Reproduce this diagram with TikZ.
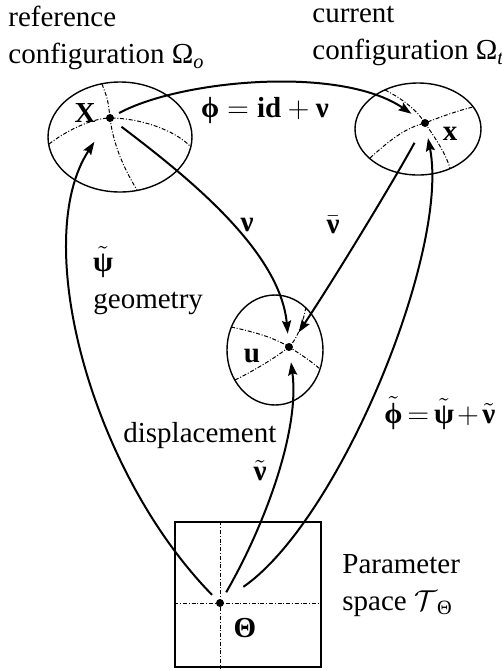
\documentclass[tikz,border=0pt]{standalone}
\usepackage{fontspec}
\setmainfont{Liberation Serif}
\usetikzlibrary{arrows.meta,shapes.geometric}

\newcommand{\bfphi}{\mbox{\bfseries ϕ}}
\newcommand{\bfpsi}{\mbox{\bfseries ψ}}
\newcommand{\bfnu}{\mbox{\bfseries ν}}
\newcommand{\bfTheta}{\mbox{\bfseries Θ}}

\begin{document}
\begin{tikzpicture}[x=0.5pt,y=-0.5pt,
  font=\fontsize{14.5}{18.5}\selectfont,
  region/.style={draw,line width=0.7pt,inner sep=0pt},
  pt/.style={circle,fill=black,inner sep=0pt,minimum size=4pt},
  grid/.style={line width=0.5pt,dash pattern=on 2pt off 0.9pt on 0.5pt off 0.9pt},
  map/.style={line width=1pt,-{Stealth[length=6.5pt,width=4.5pt,inset=1pt]}},
  lbl/.style={inner sep=0pt,anchor=base}]
\useasboundingbox (0,0) rectangle (502,671);

% configurations and parameter space
\node[region,ellipse,minimum width=72pt,minimum height=55pt] (RefConf) at (120,137) {};
\node[region,ellipse,minimum width=63pt,minimum height=46pt] (CurConf) at (418,129) {};
\node[region,ellipse,minimum width=48pt,minimum height=55pt] (DispConf) at (275,350) {};
\node[region,rectangle,minimum width=73pt,minimum height=72.5pt] (ParSpace) at (248,594.5) {};

\node[pt] (X) at (110,118) {};
\node[pt] (x) at (425,123) {};
\node[pt] (u) at (289,347) {};
\node[pt] (T) at (220,603) {};

% curvilinear coordinate lines
\draw[grid] (102,84) .. controls (108,100) .. (X.center) .. controls (114,150) and (128,175) .. (137,190);
\draw[grid] (49,144) .. controls (70,128) and (95,118) .. (X.center) .. controls (140,118) and (175,130) .. (191,147);
\draw[grid] (385,90) .. controls (405,100) and (418,112) .. (x.center) .. controls (435,138) and (445,152) .. (450,168);
\draw[grid] (370,158) .. controls (390,140) and (405,128) .. (x.center) .. controls (440,117) and (460,110) .. (473,107);
\draw[grid] (231,327) .. controls (255,332) and (275,338) .. (u.center) .. controls (302,355) and (312,362) .. (320,369);
\draw[grid] (235,380) .. controls (255,370) and (275,358) .. (u.center) .. controls (298,338) and (303,322) .. (306,307);
\draw[grid] (T.center |- ParSpace.north) -- (T.center |- ParSpace.south);
\draw[grid] (T.center -| ParSpace.west) -- (T.center -| ParSpace.east);

% mappings
\draw[map,shorten <=3pt,shorten >=6pt] (X) .. controls (180,80) and (340,65) .. (x);
\draw[map,shorten <=5pt,shorten >=4.5pt] (X) .. controls (185,175) and (280,250) .. (u);
\draw[map,shorten <=9pt,shorten >=6.5pt] (x) .. controls (400,170) and (340,270) .. (u);
\draw[map,shorten <=4pt,shorten >=5.5pt] (T) .. controls (265,525) and (300,430) .. (u);
\draw[map,shorten <=3.5pt,shorten >=12pt] (T) .. controls (90,470) and (30,240) .. (X);
\draw[map,shorten <=12pt,shorten >=5.5pt] (T) .. controls (340,520) and (450,250) .. (x);

% labels
\node[align=left,anchor=north west,inner sep=0pt] (RefLbl) at (8,6) {reference\\configuration Ω\textsubscript{\textit{o}}};
\node[align=left,anchor=north west,inner sep=0pt] (CurLbl) at (312,6) {current\\configuration Ω\textsubscript{\textit{t}}};
\node[align=left,anchor=north west,inner sep=0pt] (ParLbl) at (342,554) {Parameter\\space $\mathcal{T}$\textsubscript{Θ}};

\node[lbl] at (85,122) {\textbf{X}};
\node[lbl] at (450,140) {\textbf{x}};
\node[lbl] at (252,362) {\textbf{u}};
\node[lbl] at (245,637) {\bfTheta};

\node[lbl] at (265,117) {$\bfphi=\mbox{\bfseries id}+\bfnu$};
\node[lbl] at (247,231) {\bfnu};
\node[lbl] at (333,233) {$\bar{\bfnu}$};
\node[lbl] at (103,271) {$\tilde{\bfpsi}$};
\node[lbl,anchor=base west] at (93,308) {geometry};
\node[lbl,anchor=base west] at (123,442) {displacement};
\node[lbl] at (260,480) {$\tilde{\bfnu}$};
\node[lbl,anchor=base west] at (384,423) {\thickmuskip=3mu\medmuskip=2mu$\tilde{\bfphi}=\tilde{\bfpsi}+\tilde{\bfnu}$};
\end{tikzpicture}
\end{document}
